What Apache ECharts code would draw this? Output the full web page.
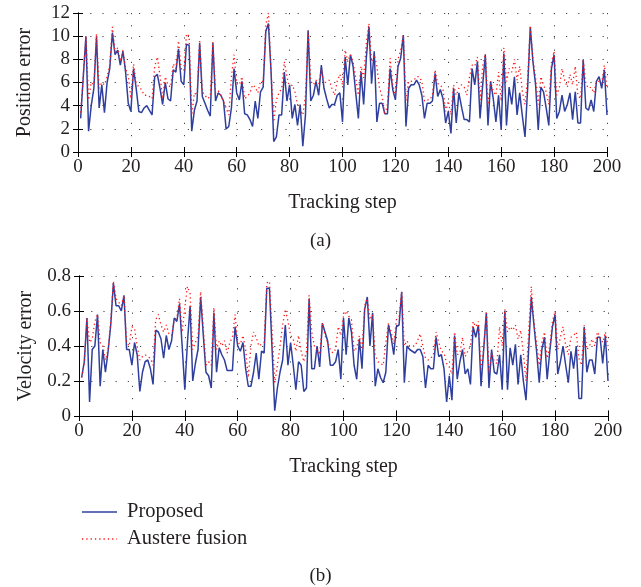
<!DOCTYPE html>
<html>
<head>
<meta charset="utf-8">
<script src="https://cdn.jsdelivr.net/npm/echarts@6/dist/echarts.min.js"></script>
<style>
  html, body { margin: 0; padding: 0; background: #fff; }
  #chart { width: 641px; height: 587px; }
</style>
</head>
<body>
<div id="chart"></div>
<script>
// tracking steps 1..200
const steps = Array.from({ length: 200 }, (_, k) => k + 1);

// (a) position error
const posProposed = [
  2.9, 6.5, 10.0, 1.8, 4.0, 5.5, 10.0, 3.8, 5.8, 3.4,
  6.0, 7.2, 10.3, 8.4, 8.8, 7.5, 8.7, 6.9, 4.2, 3.5,
  7.2, 5.5, 3.5, 3.4, 3.8, 4.0, 3.6, 3.2, 6.5, 6.7,
  5.5, 4.1, 6.0, 4.6, 4.4, 7.1, 6.9, 8.9, 6.1, 5.8,
  9.3, 9.2, 1.8, 3.6, 4.4, 9.4, 4.8, 4.2, 3.6, 3.1,
  9.4, 4.4, 5.1, 4.9, 4.4, 2.0, 2.2, 3.8, 7.2, 5.1,
  4.5, 6.1, 3.3, 3.2, 2.8, 2.2, 4.4, 2.9, 5.2, 5.6,
  10.4, 11.1, 6.9, 0.9, 1.3, 3.2, 3.2, 6.9, 4.4, 5.8,
  2.9, 4.1, 2.3, 4.1, 0.5, 3.2, 10.5, 4.4, 4.9, 6.1,
  4.9, 7.5, 5.5, 4.6, 3.8, 4.1, 4.1, 4.9, 5.1, 2.6,
  8.2, 5.8, 8.4, 7.4, 5.1, 2.9, 6.9, 4.1, 8.1, 10.8,
  5.9, 8.7, 2.6, 4.2, 4.2, 3.3, 3.3, 7.2, 5.4, 4.5,
  7.4, 8.1, 10.1, 2.2, 5.5, 5.8, 5.8, 6.2, 5.8, 4.9,
  2.9, 4.2, 4.2, 4.4, 6.8, 4.8, 5.4, 4.6, 2.5, 3.5,
  1.6, 5.5, 2.5, 5.1, 3.9, 2.8, 2.8, 2.6, 7.2, 5.8,
  7.8, 2.9, 5.8, 8.4, 2.3, 6.1, 4.6, 2.6, 4.9, 1.9,
  8.5, 2.3, 5.6, 4.1, 6.5, 3.2, 5.1, 3.1, 1.3, 5.5,
  10.8, 7.8, 5.8, 1.9, 5.6, 5.2, 3.8, 2.3, 7.2, 8.4,
  2.9, 3.5, 4.9, 3.5, 4.1, 5.1, 2.8, 5.2, 2.5, 2.5,
  8.0, 3.8, 3.6, 4.5, 3.5, 6.1, 6.5, 5.5, 7.1, 3.2
];
const posAustere = [
  3.4, 6.6, 10.0, 4.5, 6.0, 5.8, 10.2, 5.5, 6.0, 5.8,
  6.5, 7.5, 10.8, 8.6, 9.0, 7.8, 8.8, 7.2, 6.6, 4.6,
  7.6, 6.0, 5.6, 5.4, 4.9, 4.9, 4.8, 4.6, 7.4, 8.2,
  6.6, 4.6, 6.5, 5.8, 5.6, 7.6, 7.2, 9.6, 7.2, 7.0,
  10.2, 10.0, 3.2, 5.1, 4.9, 9.7, 5.2, 4.9, 4.6, 4.8,
  9.5, 5.1, 5.3, 4.9, 4.4, 3.8, 3.2, 6.5, 8.4, 5.9,
  5.8, 6.5, 4.6, 4.8, 5.1, 5.8, 5.6, 5.1, 6.1, 6.1,
  11.0, 12.0, 7.0, 2.6, 4.5, 5.1, 5.5, 7.8, 6.5, 5.5,
  5.8, 5.2, 4.1, 3.6, 3.2, 4.9, 10.4, 6.1, 5.8, 6.2,
  5.9, 7.1, 5.9, 6.1, 6.2, 5.5, 4.9, 6.1, 6.7, 5.8,
  8.8, 7.8, 8.4, 7.8, 6.4, 4.9, 7.4, 6.4, 9.4, 11.1,
  7.8, 8.4, 7.4, 5.5, 4.8, 3.2, 4.1, 8.1, 5.8, 4.8,
  8.0, 8.8, 10.1, 4.4, 6.1, 6.1, 6.2, 6.5, 6.5, 6.1,
  4.4, 4.5, 4.5, 4.9, 7.1, 5.9, 5.8, 5.4, 3.5, 4.4,
  3.2, 5.8, 4.9, 5.5, 5.8, 5.6, 4.9, 6.5, 7.5, 7.4,
  8.2, 4.5, 7.4, 8.5, 4.1, 6.1, 5.2, 4.9, 6.9, 4.4,
  9.0, 6.1, 7.2, 6.9, 8.0, 6.2, 7.4, 5.2, 4.1, 6.4,
  10.9, 8.0, 6.4, 4.1, 6.5, 5.8, 5.2, 4.1, 7.7, 8.7,
  4.9, 5.6, 7.2, 6.2, 5.6, 6.7, 5.8, 7.4, 4.9, 4.6,
  8.0, 5.9, 5.5, 5.6, 5.1, 6.1, 6.1, 5.9, 7.5, 5.5
];

// (b) velocity error
const velProposed = [
  0.22, 0.31, 0.56, 0.08, 0.38, 0.40, 0.58, 0.17, 0.38, 0.25,
  0.37, 0.52, 0.76, 0.63, 0.63, 0.60, 0.69, 0.38, 0.38, 0.29,
  0.42, 0.35, 0.14, 0.25, 0.31, 0.32, 0.27, 0.18, 0.49, 0.48,
  0.44, 0.33, 0.46, 0.38, 0.43, 0.56, 0.54, 0.64, 0.40, 0.15,
  0.42, 0.63, 0.20, 0.30, 0.38, 0.68, 0.46, 0.25, 0.23, 0.16,
  0.59, 0.25, 0.39, 0.35, 0.32, 0.26, 0.26, 0.26, 0.51, 0.40,
  0.37, 0.42, 0.27, 0.17, 0.17, 0.25, 0.36, 0.21, 0.37, 0.36,
  0.73, 0.73, 0.38, 0.03, 0.16, 0.25, 0.32, 0.52, 0.29, 0.42,
  0.29, 0.15, 0.31, 0.29, 0.14, 0.16, 0.67, 0.27, 0.27, 0.40,
  0.28, 0.53, 0.48, 0.43, 0.29, 0.29, 0.31, 0.38, 0.21, 0.56,
  0.35, 0.56, 0.48, 0.29, 0.21, 0.44, 0.27, 0.61, 0.68, 0.40,
  0.59, 0.17, 0.27, 0.22, 0.19, 0.25, 0.52, 0.45, 0.35, 0.51,
  0.52, 0.71, 0.19, 0.40, 0.38, 0.37, 0.36, 0.38, 0.38, 0.34,
  0.16, 0.29, 0.27, 0.27, 0.45, 0.34, 0.35, 0.27, 0.08, 0.23,
  0.09, 0.46, 0.21, 0.31, 0.38, 0.24, 0.27, 0.18, 0.51, 0.45,
  0.52, 0.17, 0.38, 0.59, 0.16, 0.38, 0.25, 0.24, 0.35, 0.15,
  0.60, 0.15, 0.39, 0.29, 0.41, 0.18, 0.35, 0.20, 0.09, 0.38,
  0.68, 0.52, 0.37, 0.19, 0.38, 0.45, 0.21, 0.37, 0.51, 0.58,
  0.24, 0.31, 0.40, 0.29, 0.19, 0.37, 0.27, 0.40, 0.10, 0.10,
  0.51, 0.25, 0.32, 0.32, 0.24, 0.45, 0.45, 0.30, 0.46, 0.20
];
const velAustere = [
  0.22, 0.30, 0.56, 0.42, 0.44, 0.54, 0.58, 0.42, 0.40, 0.32,
  0.38, 0.54, 0.77, 0.67, 0.65, 0.63, 0.69, 0.42, 0.40, 0.51,
  0.50, 0.40, 0.32, 0.34, 0.35, 0.34, 0.33, 0.29, 0.55, 0.58,
  0.52, 0.48, 0.52, 0.47, 0.46, 0.55, 0.56, 0.67, 0.48, 0.62,
  0.74, 0.70, 0.38, 0.42, 0.46, 0.71, 0.50, 0.29, 0.31, 0.29,
  0.62, 0.38, 0.43, 0.40, 0.43, 0.36, 0.42, 0.45, 0.58, 0.42,
  0.41, 0.46, 0.38, 0.22, 0.40, 0.48, 0.45, 0.40, 0.41, 0.42,
  0.76, 0.77, 0.48, 0.19, 0.29, 0.40, 0.52, 0.61, 0.54, 0.46,
  0.44, 0.37, 0.46, 0.37, 0.31, 0.37, 0.69, 0.48, 0.40, 0.38,
  0.35, 0.53, 0.46, 0.42, 0.38, 0.36, 0.38, 0.51, 0.46, 0.57,
  0.60, 0.57, 0.55, 0.37, 0.39, 0.46, 0.38, 0.63, 0.67, 0.55,
  0.58, 0.35, 0.31, 0.30, 0.29, 0.42, 0.53, 0.48, 0.41, 0.55,
  0.57, 0.71, 0.40, 0.43, 0.40, 0.40, 0.40, 0.43, 0.47, 0.40,
  0.33, 0.32, 0.33, 0.35, 0.48, 0.42, 0.37, 0.36, 0.30, 0.28,
  0.24, 0.48, 0.35, 0.36, 0.45, 0.34, 0.37, 0.40, 0.54, 0.51,
  0.54, 0.27, 0.38, 0.60, 0.25, 0.36, 0.31, 0.30, 0.51, 0.40,
  0.61, 0.48, 0.51, 0.49, 0.52, 0.44, 0.49, 0.36, 0.20, 0.48,
  0.74, 0.54, 0.42, 0.29, 0.42, 0.48, 0.33, 0.40, 0.54, 0.60,
  0.38, 0.45, 0.51, 0.40, 0.35, 0.45, 0.46, 0.48, 0.33, 0.29,
  0.52, 0.38, 0.40, 0.44, 0.40, 0.48, 0.45, 0.42, 0.48, 0.40
];

const FONT = 'Liberation Serif';
const TXT = '#231f20';
const BLUE = '#2f3f9e';
const RED = '#ff1a1a';
const DOTS = [1.3, 3];

function pairs(ys) {
  return steps.map((s, k) => [s, ys[k]]);
}

// main x axis (with labels, grid) and a bare top one for the inner ticks
function xAxes(gi) {
  const base = {
    type: 'value', gridIndex: gi, min: 0, max: 200, interval: 20,
    axisLine: { show: true, lineStyle: { color: '#000', width: 1 } },
    axisTick: { show: true, inside: true, length: 5, lineStyle: { color: '#000' } }
  };
  return [
    Object.assign({}, base, {
      position: 'bottom',
      name: 'Tracking step', nameLocation: 'middle', nameGap: 41,
      nameTextStyle: { fontFamily: FONT, fontSize: 20, color: TXT },
      axisLabel: { fontFamily: FONT, fontSize: 19, color: TXT, margin: 6 },
      splitLine: { show: true, lineStyle: { color: '#444', width: 1, type: [1.2, 11] } }
    }),
    Object.assign({}, base, {
      position: 'top', axisLabel: { show: false }, splitLine: { show: false }
    })
  ];
}

function yAxes(gi, max, step, title) {
  const base = {
    type: 'value', gridIndex: gi, min: 0, max: max, interval: step,
    axisLine: { show: true, lineStyle: { color: '#000', width: 1 } },
    axisTick: { show: true, inside: true, length: 5, lineStyle: { color: '#000' } }
  };
  return [
    Object.assign({}, base, {
      position: 'left',
      name: title, nameLocation: 'middle', nameGap: 43,
      nameTextStyle: { fontFamily: FONT, fontSize: 20, color: TXT },
      axisLabel: { fontFamily: FONT, fontSize: 19, color: TXT, margin: 8 },
      splitLine: { show: true, lineStyle: { color: '#444', width: 1, type: [1.2, 11] } }
    }),
    Object.assign({}, base, {
      position: 'right', axisLabel: { show: false }, splitLine: { show: false }
    })
  ];
}

const chart = echarts.init(document.getElementById('chart'), null, { renderer: 'canvas' });

chart.setOption({
  backgroundColor: '#fff',
  animation: false,
  grid: [
    { left: 78, right: 34, top: 13, height: 139 },
    { left: 79, right: 33, top: 276, height: 140 }
  ],
  xAxis: xAxes(0).concat(xAxes(1)),
  yAxis: yAxes(0, 12, 2, 'Position error').concat(yAxes(1, 0.8, 0.2, 'Velocity error')),
  graphic: [
    // legend
    { type: 'line', shape: { x1: 82, y1: 512, x2: 117, y2: 512 }, style: { stroke: BLUE, lineWidth: 1.5 } },
    { type: 'text', left: 127, top: 501, style: { text: 'Proposed', font: '20.5px "Liberation Serif"', fill: TXT } },
    { type: 'line', shape: { x1: 82, y1: 539, x2: 117, y2: 539 }, style: { stroke: RED, lineWidth: 1.3, lineDash: DOTS } },
    { type: 'text', left: 127, top: 528, style: { text: 'Austere fusion', font: '20.5px "Liberation Serif"', fill: TXT } },
    // panel captions
    { type: 'text', left: 'center', top: 232, style: { text: '(a)', font: '19px "Liberation Serif"', fill: TXT } },
    { type: 'text', left: 'center', top: 567, style: { text: '(b)', font: '19px "Liberation Serif"', fill: TXT } }
  ],
  series: [
    {
      name: 'Proposed', type: 'line', xAxisIndex: 0, yAxisIndex: 0,
      data: pairs(posProposed), showSymbol: false, symbol: 'none',
      lineStyle: { color: BLUE, width: 1.5 }, itemStyle: { color: BLUE }
    },
    {
      name: 'Austere fusion', type: 'line', xAxisIndex: 0, yAxisIndex: 0,
      data: pairs(posAustere), showSymbol: false, symbol: 'none',
      lineStyle: { color: RED, width: 1.3, type: DOTS }, itemStyle: { color: RED }
    },
    {
      name: 'Proposed', type: 'line', xAxisIndex: 2, yAxisIndex: 2,
      data: pairs(velProposed), showSymbol: false, symbol: 'none',
      lineStyle: { color: BLUE, width: 1.5 }, itemStyle: { color: BLUE }
    },
    {
      name: 'Austere fusion', type: 'line', xAxisIndex: 2, yAxisIndex: 2,
      data: pairs(velAustere), showSymbol: false, symbol: 'none',
      lineStyle: { color: RED, width: 1.3, type: DOTS }, itemStyle: { color: RED }
    }
  ]
});
</script>
</body>
</html>
